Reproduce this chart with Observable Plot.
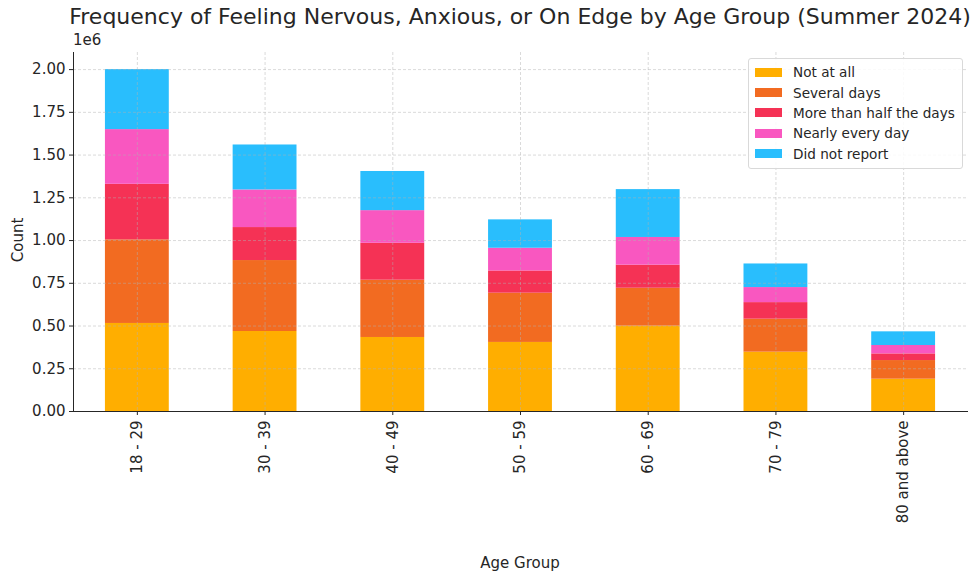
<!DOCTYPE html>
<html>
<head>
<meta charset="utf-8">
<script src="https://cdn.jsdelivr.net/npm/d3@7"></script>
<script src="https://cdn.jsdelivr.net/npm/@observablehq/plot@0.6"></script>
<style>
  html, body { margin: 0; padding: 0; background: #fff; }
  body { font-family: "DejaVu Sans", sans-serif; color: #262626; }
  #wrap { position: relative; width: 980px; height: 582px; }
  .abs { position: absolute; white-space: nowrap; }
  #title { left: 0; width: 1040px; top: 4px; text-align: center; font-size: 22px; color: #262626; }
  #e6 { left: 73px; top: 31px; font-size: 15px; }
  #ylab { left: 18px; top: 240px; font-size: 15px; transform: translate(-50%, -50%) rotate(-90deg); }
  #xlab { left: 520px; top: 563px; font-size: 15px; transform: translate(-50%, -50%); }
  #legend { left: 748px; top: 58px; width: 213px; padding: 3px 0 4px 0; border: 1px solid #d9d9d9; border-radius: 3px; background: rgba(255,255,255,0.85); font-size: 13.6px; }
  .row { display: flex; align-items: center; height: 20.4px; }
  .sw { width: 27px; height: 9px; margin-left: 6px; margin-right: 11px; }
</style>
</head>
<body>
<div id="wrap">
  <div id="chart"></div>
  <div id="title" class="abs">Frequency of Feeling Nervous, Anxious, or On Edge by Age Group (Summer 2024)</div>
  <div id="e6" class="abs">1e6</div>
  <div id="ylab" class="abs">Count</div>
  <div id="xlab" class="abs">Age Group</div>
  <div id="legend" class="abs"></div>
</div>
<script>
const ageGroups = ["18 - 29", "30 - 39", "40 - 49", "50 - 59", "60 - 69", "70 - 79", "80 and above"];
const responses = ["Not at all", "Several days", "More than half the days", "Nearly every day", "Did not report"];
const colors = ["#FFAE00", "#F26B21", "#F53255", "#F957C0", "#29BEFD"];

const notAtAll       = [515000, 468000, 433000, 404000, 499000, 347000, 189000];
const severalDays    = [489000, 415000, 335000, 288000, 222000, 193000, 109000];
const moreThanHalf   = [325000, 193000, 216000, 130000, 135000,  97000,  39000];
const nearlyEveryDay = [320000, 220000, 191000, 133000, 162000,  88000,  49000];
const didNotReport   = [351000, 263000, 229000, 166000, 280000, 138000,  80000];

const yTicks = [0, 250000, 500000, 750000, 1000000, 1250000, 1500000, 1750000, 2000000];

const seriesValues = [notAtAll, severalDays, moreThanHalf, nearlyEveryDay, didNotReport];
const table = [];
responses.forEach((r, i) => {
  ageGroups.forEach((g, j) => table.push({group: g, response: r, order: i, count: seriesValues[i][j]}));
});

const chart = Plot.plot({
  width: 980,
  height: 582,
  marginLeft: 73,
  marginRight: 13,
  marginTop: 52,
  marginBottom: 171,
  style: {fontFamily: "DejaVu Sans, sans-serif", fontSize: "15px", color: "#262626", background: "white"},
  x: {domain: ageGroups, paddingInner: 0.5, paddingOuter: 0.25, round: false, label: null},
  y: {domain: [0, 2100000], label: null},
  color: {domain: responses, range: colors},
  marks: [
    Plot.barY(table, {x: "group", y: "count", fill: "response", order: "order", inset: 0}),
    Plot.gridY(yTicks, {stroke: "#b0b0b0", strokeOpacity: 0.6, strokeDasharray: "3,2", strokeWidth: 0.8}),
    Plot.ruleX(ageGroups, {stroke: "#b0b0b0", strokeOpacity: 0.6, strokeDasharray: "3,2", strokeWidth: 0.8}),
    Plot.axisY(yTicks, {tickFormat: d => (d / 1e6).toFixed(2), tickSize: 4, tickPadding: 4, fontSize: 15, label: null, stroke: "#262626"}),
    Plot.axisX({tickRotate: -90, tickSize: 4, tickPadding: 5, fontSize: 15, label: null, stroke: "#262626"}),
    Plot.frame({anchor: "left", stroke: "#262626"}),
    Plot.frame({anchor: "bottom", stroke: "#262626"})
  ]
});
document.getElementById("chart").appendChild(chart);

const legend = document.getElementById("legend");
responses.forEach((r, i) => {
  const row = document.createElement("div");
  row.className = "row";
  const sw = document.createElement("div");
  sw.className = "sw";
  sw.style.background = colors[i];
  const t = document.createElement("span");
  t.textContent = r;
  row.appendChild(sw);
  row.appendChild(t);
  legend.appendChild(row);
});
</script>
</body>
</html>
